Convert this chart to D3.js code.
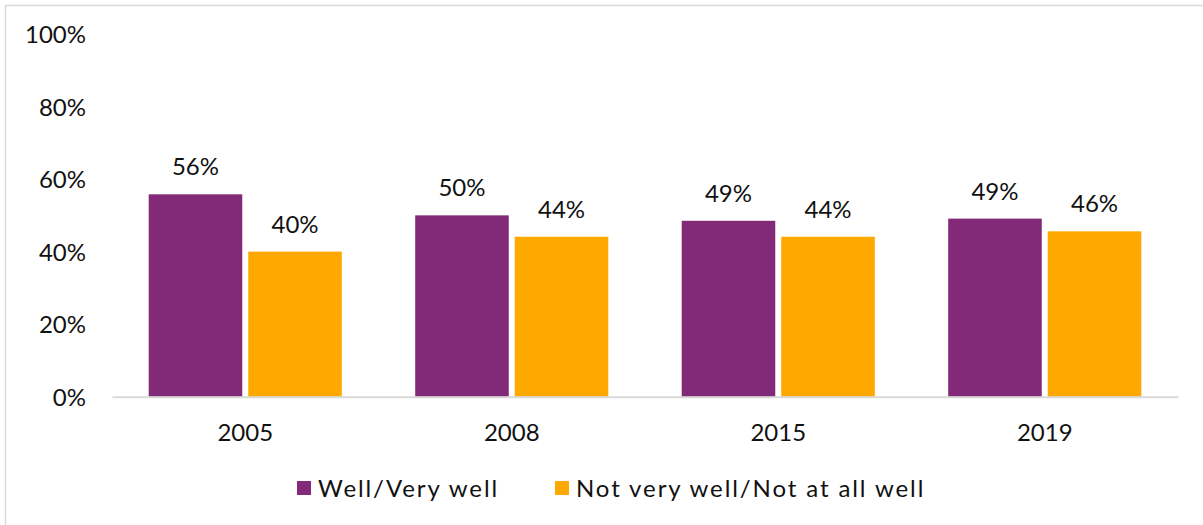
<!DOCTYPE html>
<html><head><meta charset="utf-8">
<script src="https://cdn.jsdelivr.net/npm/d3@7/dist/d3.min.js"></script>
<style>
html,body{margin:0;padding:0;background:#fff;}
svg text{font-family:"Lato","Open Sans",sans-serif;fill:#111;}
</style></head>
<body>
<svg id="chart" width="1203" height="525"></svg>
<script>
const categories = ["2005","2008","2015","2019"];
const seriesNames = ["Well/Very well","Not very well/Not at all well"];
const wellValues = [0.558, 0.500, 0.485, 0.491];
const notWellValues = [0.400, 0.441, 0.441, 0.456];
const yTicks = [0, 0.2, 0.4, 0.6, 0.8, 1.0];
const colors = ["#822A78", "#FFA900"];

const svg = d3.select("#chart");
// outer frame
svg.append("rect").attr("x",5.5).attr("y",5.5).attr("width",1220).attr("height",540)
  .attr("fill","none").attr("stroke","#d9d9d9").attr("stroke-width",1.5);

const margin = {left:112, right:1178, top:34, bottom:396.7};
const x = d3.scaleBand().domain(categories).range([margin.left, margin.right]).paddingInner(0).paddingOuter(0);
const xInner = d3.scaleBand().domain(seriesNames).range([36.7, x.bandwidth()-36.7]).paddingInner(0.06).paddingOuter(0);
const y = d3.scaleLinear().domain([0,1]).range([margin.bottom, margin.top]);

const data = categories.map((c,i)=>({cat:c, vals:[wellValues[i], notWellValues[i]]}));

// y axis labels
const yAxis = d3.axisLeft(y).tickValues(yTicks).tickFormat(d3.format(".0%")).tickSize(0).tickPadding(0);
const yg = svg.append("g").attr("transform","translate(86,0)").call(yAxis);
yg.select(".domain").remove();
yg.selectAll("text").style("font-size","24px").attr("fill","#111").attr("dy","0.36em");

// bars
const groups = svg.append("g").selectAll("g").data(data).join("g")
  .attr("transform", d=>`translate(${x(d.cat)},0)`);
groups.selectAll("rect").data(d=>d.vals.map((v,j)=>({v, s:seriesNames[j], j})))
  .join("rect")
  .attr("x", d=>xInner(d.s))
  .attr("width", xInner.bandwidth())
  .attr("y", d=>y(d.v))
  .attr("height", d=>y(0)-y(d.v))
  .attr("fill", d=>colors[d.j]);
groups.selectAll("text").data(d=>d.vals.map((v,j)=>({v, s:seriesNames[j], j})))
  .join("text")
  .attr("x", d=>xInner(d.s)+xInner.bandwidth()/2)
  .attr("y", d=>y(d.v)-19)
  .attr("text-anchor","middle")
  .style("font-size","24px")
  .text(d=>d3.format(".0%")(Math.round(d.v*100)/100));

// x axis
const xAxis = d3.axisBottom(x).tickSize(0).tickPadding(0);
const xg = svg.append("g").attr("transform",`translate(0,${margin.bottom})`).call(xAxis);
xg.select(".domain").attr("stroke","#d9d9d9").attr("stroke-width",2);
xg.selectAll("text").style("font-size","24px").attr("fill","#111").attr("dy","0").attr("y",44);

// legend
const legendX = [297, 555];
const lg = svg.append("g").selectAll("g").data(seriesNames).join("g")
  .attr("transform",(d,i)=>`translate(${legendX[i]},0)`);
lg.append("rect").attr("x",0).attr("y",481).attr("width",14).attr("height",14).attr("fill",(d,i)=>colors[i]);
lg.append("text").attr("x",21).attr("y",497).style("font-size","24px").style("letter-spacing","1.9px").text(d=>d);
</script>
</body></html>
